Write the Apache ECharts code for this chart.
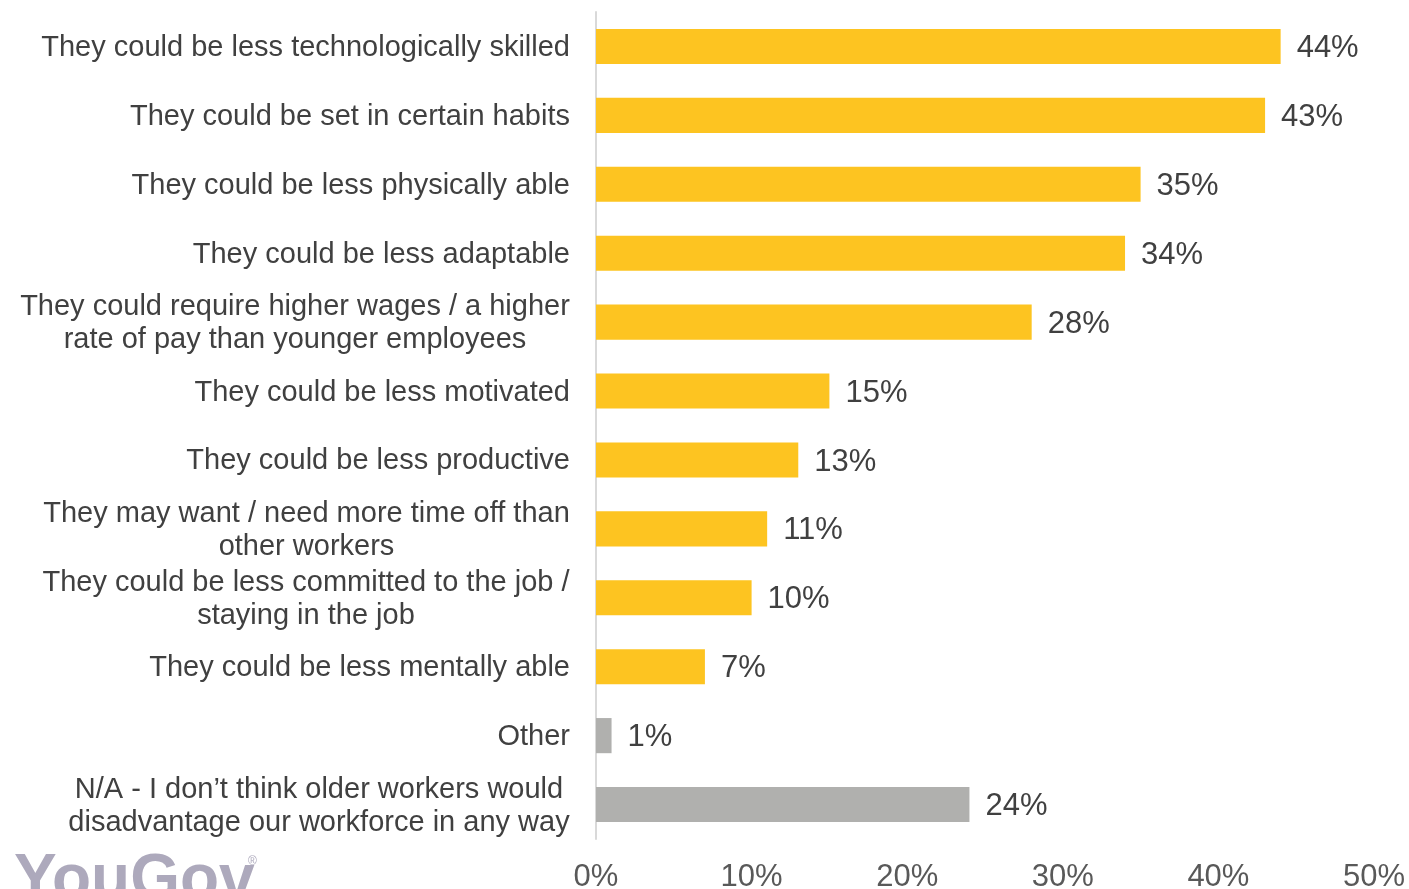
<!DOCTYPE html>
<html>
<head>
<meta charset="utf-8">
<script src="https://cdn.jsdelivr.net/npm/echarts@6/dist/echarts.min.js"></script>
<style>
  html, body { margin: 0; padding: 0; background: #ffffff; }
  #chart { width: 1409px; height: 889px; }
</style>
</head>
<body>
<div id="chart"></div>
<script>
// Reasons older workers could disadvantage the workforce (% of respondents)
const categories = [
  'They could be less technologically skilled',
  'They could be set in certain habits',
  'They could be less physically able',
  'They could be less adaptable',
  'They could require higher wages / a higher\nrate of pay than younger employees',
  'They could be less motivated',
  'They could be less productive',
  'They may want / need more time off than\nother workers',
  'They could be less committed to the job /\nstaying in the job',
  'They could be less mentally able',
  'Other',
  'N/A - I don\u2019t think older workers would\ndisadvantage our workforce in any way'
];
const values = [44, 43, 35, 34, 28, 15, 13, 11, 10, 7, 1, 24];
// Main reasons in yellow, "Other" and "N/A" in grey
const isNeutral = [false, false, false, false, false, false, false, false, false, false, true, true];
const xTicks = [0, 10, 20, 30, 40, 50];

const YELLOW = '#FDC421';
const GREY = '#B0B0AE';
const TEXT = '#404040';
const FONT = '"Liberation Sans", Arial, sans-serif';
const LABEL_SIZE = 29;
const LABEL_LINE = 33;

// measure text so wrapped category labels can be centred on their widest line
const measureCtx = document.createElement('canvas').getContext('2d');
measureCtx.font = LABEL_SIZE + 'px ' + FONT;
function textWidth(s) { return Math.ceil(measureCtx.measureText(s).width); }
function blockWidth(c) { return Math.max.apply(null, c.split('\n').map(textWidth)); }

const richStyles = {};
categories.filter(c => c.indexOf('\n') >= 0).forEach(c => {
  const w = blockWidth(c);
  richStyles['c' + w] = {
    width: w, align: 'center',
    fontFamily: FONT, fontSize: LABEL_SIZE, lineHeight: LABEL_LINE, color: TEXT
  };
});

const chart = echarts.init(document.getElementById('chart'), null, { renderer: 'canvas' });

chart.setOption({
  animation: false,
  backgroundColor: '#ffffff',
  grid: {
    left: 596, right: 35, top: 12, bottom: 50,
    containLabel: false,
    outerBoundsMode: 'none'
  },
  xAxis: {
    type: 'value',
    min: xTicks[0],
    max: xTicks[xTicks.length - 1],
    interval: 10,
    axisLine: { show: false },
    axisTick: { show: false },
    splitLine: { show: false },
    axisLabel: {
      formatter: v => v + '%',
      fontFamily: FONT,
      fontSize: 31,
      color: '#595959',
      margin: 23
    }
  },
  yAxis: {
    type: 'category',
    inverse: true,
    data: categories,
    axisLine: { show: true, lineStyle: { color: '#D9D9D9', width: 2 } },
    axisTick: { show: false },
    axisLabel: {
      margin: 26,
      align: 'right',
      padding: [3, 0, 0, 0],
      fontFamily: FONT,
      fontSize: LABEL_SIZE,
      lineHeight: LABEL_LINE,
      color: TEXT,
      formatter: function (val) {
        if (val.indexOf('\n') < 0) return val;
        const key = 'c' + blockWidth(val);
        return val.split('\n').map(l => '{' + key + '|' + l + '}').join('\n');
      },
      rich: richStyles
    }
  },
  series: [{
    type: 'bar',
    data: values.map((v, i) => ({
      value: v,
      itemStyle: { color: isNeutral[i] ? GREY : YELLOW }
    })),
    barCategoryGap: '49%',
    label: {
      show: true,
      position: 'right',
      distance: 16,
      offset: [0, 2],
      formatter: p => p.value + '%',
      fontFamily: FONT,
      fontSize: 31,
      color: TEXT
    }
  }],
  graphic: [
    {
      type: 'text',
      left: 14,
      top: 849,
      style: {
        text: 'YouGov',
        fontFamily: FONT,
        fontWeight: 'bold',
        fontSize: 64,
        fill: '#ADA9BC'
      }
    },
    {
      type: 'text',
      left: 248,
      top: 856,
      style: {
        text: '\u00AE',
        fontFamily: FONT,
        fontSize: 12,
        fill: '#ADA9BC'
      }
    }
  ]
});
</script>
</body>
</html>
